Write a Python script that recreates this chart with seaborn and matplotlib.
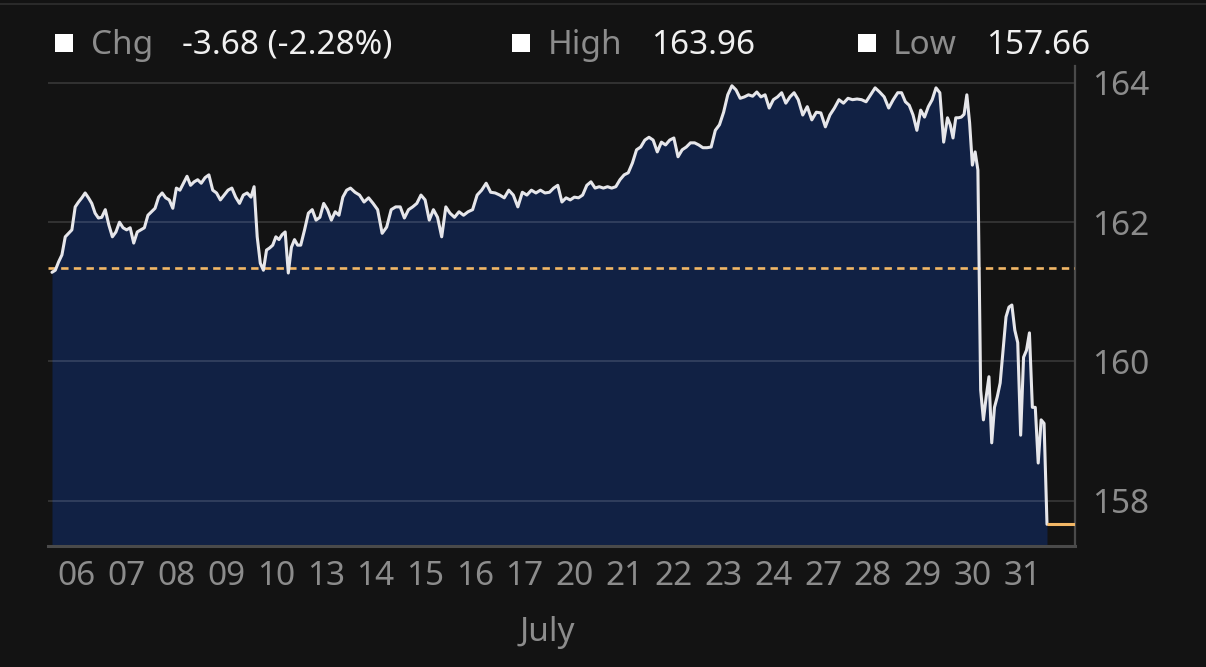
import numpy as np
import pandas as pd
import matplotlib
matplotlib.use("Agg")
import matplotlib.pyplot as plt
from matplotlib.patches import Rectangle
from matplotlib.lines import Line2D
import seaborn as sns

# ---------------- data ----------------
day_labels = ["06", "07", "08", "09", "10", "13", "14", "15", "16", "17",
              "20", "21", "22", "23", "24", "27", "28", "29", "30", "31"]
month_label = "July"
prev_close = 161.34
y_ticks = [158, 160, 162, 164]

jul06 = [161.28, 161.31, 161.43, 161.53, 161.79, 161.84, 161.89, 162.22, 162.29, 162.35, 162.42, 162.35, 162.27, 162.13, 162.06]
jul07 = [162.07, 162.18, 161.96, 161.79, 161.86, 162.00, 161.92, 161.89, 161.92, 161.70, 161.86, 161.89, 161.92, 162.10]
jul08 = [162.15, 162.20, 162.36, 162.42, 162.35, 162.32, 162.20, 162.49, 162.46, 162.56, 162.66, 162.53, 162.58, 162.61]
jul09 = [162.56, 162.64, 162.68, 162.46, 162.42, 162.32, 162.39, 162.46, 162.49, 162.36, 162.27, 162.39, 162.42]
jul10 = [162.36, 162.51, 161.79, 161.41, 161.31, 161.60, 161.63, 161.67, 161.79, 161.75, 161.82, 161.86, 161.27, 161.64, 161.75, 161.67]
jul13 = [161.67, 161.89, 162.13, 162.18, 162.03, 162.07, 162.27, 162.18, 162.03, 162.15, 162.10, 162.36, 162.46]
jul14 = [162.49, 162.43, 162.39, 162.29, 162.35, 162.27, 162.18, 161.84, 161.93, 162.18, 162.22]
jul15 = [162.22, 162.06, 162.18, 162.22, 162.27, 162.39, 162.32, 162.03, 162.18, 162.07, 161.79, 162.22]
jul16 = [162.13, 162.07, 162.15, 162.10, 162.15, 162.18, 162.39, 162.46, 162.56, 162.43, 162.42]
jul17 = [162.39, 162.35, 162.46, 162.39, 162.22, 162.43, 162.39, 162.46, 162.42, 162.46, 162.42]
jul20 = [162.43, 162.49, 162.53, 162.29, 162.35, 162.32, 162.36, 162.35, 162.39, 162.53, 162.58, 162.49]
jul21 = [162.51, 162.49, 162.51, 162.49, 162.51, 162.61, 162.68, 162.71, 162.85, 163.04, 163.08, 163.18]
jul22 = [163.22, 163.18, 163.01, 163.15, 163.11, 163.18, 163.21, 162.94, 163.04, 163.08, 163.14, 163.14]
jul23 = [163.11, 163.07, 163.07, 163.08, 163.32, 163.40, 163.58, 163.83, 163.96, 163.90, 163.78, 163.80]
jul24 = [163.83, 163.81, 163.87, 163.80, 163.83, 163.64, 163.76, 163.80, 163.86, 163.71, 163.80, 163.86]
jul27 = [163.76, 163.54, 163.66, 163.47, 163.58, 163.57, 163.37, 163.54, 163.64, 163.76, 163.71]
jul28 = [163.78, 163.76, 163.77, 163.76, 163.73, 163.83, 163.93, 163.87, 163.80, 163.64, 163.76]
jul29 = [163.86, 163.86, 163.73, 163.68, 163.54, 163.32, 163.61, 163.51, 163.66, 163.76, 163.93, 163.86, 163.15]
jul30 = [163.50, 163.40, 163.21, 163.50, 163.50, 163.51, 163.55, 163.83, 163.43, 162.82, 163.01, 162.75, 159.59, 159.16, 159.49, 159.78, 158.83, 159.34]
jul31 = [159.49, 159.69, 160.16, 160.64, 160.78, 160.81, 160.45, 160.27, 158.94, 160.06, 160.16, 160.41, 159.34, 159.34, 158.54, 159.16, 159.11, 157.66]

sessions = [jul06, jul07, jul08, jul09, jul10, jul13, jul14, jul15, jul16, jul17,
            jul20, jul21, jul22, jul23, jul24, jul27, jul28, jul29, jul30, jul31]

# build time index: each session occupies one unit on the x axis
xs, ys = [], []
for i, vals in enumerate(sessions):
    n = len(vals)
    if i == len(sessions) - 1:
        pos = np.linspace(i, i + 1, n)
    else:
        pos = i + np.arange(n) / n
    xs.extend(pos)
    ys.extend(vals)
df = pd.DataFrame({"t": xs, "price": ys})

last = df["price"].iloc[-1]
chg = last - prev_close
pct = chg / prev_close * 100
hi = df["price"].max()
lo = df["price"].min()

# ---------------- style ----------------
BG = "#131313"
NAVY = "#112144"
LINE = "#e6e6ea"
SPINE = "#4a4a4a"
TXT_GRAY = "#8c8c8c"
TXT_WHITE = "#f0f0f0"
ORANGE = "#f2b766"

sns.set_theme(style="dark", rc={"axes.facecolor": BG, "figure.facecolor": BG})
plt.rcParams["font.family"] = ["Noto Sans", "DejaVu Sans"]

W, H = 1206, 667
fig = plt.figure(figsize=(W / 100, H / 100), dpi=100)
fig.patch.set_facecolor(BG)

ax = fig.add_axes([48 / W, 1 - 546 / H, (1075 - 48) / W, (546 - 66) / H])
ax.set_facecolor(BG)

ymin, ymax = 157.348, 164.244
xmin, xmax = -0.080, 20.563

ax.fill_between(df["t"], df["price"], ymin, color=NAVY, linewidth=0, zorder=1)
for yt in y_ticks:
    ax.axhline(yt, color="white", alpha=0.13, linewidth=1.5, zorder=2)
ax.axhline(prev_close, color=ORANGE, linewidth=1.9, dashes=(2.8, 2.0), zorder=3)
sns.lineplot(data=df, x="t", y="price", ax=ax, color=LINE, linewidth=2.2,
             estimator=None, sort=False, zorder=4)
ax.plot([df["t"].iloc[-1], xmax], [last, last], color=ORANGE, linewidth=2.2,
        solid_capstyle="butt", zorder=4)

ax.set_xlim(xmin, xmax)
ax.set_ylim(ymin, ymax)
ax.set_xlabel("")
ax.set_ylabel("")
ax.grid(False)

ax.set_xticks(np.arange(len(day_labels)) + 0.5)
ax.set_xticklabels(day_labels)
ax.yaxis.tick_right()
ax.set_yticks(y_ticks)
ax.set_yticklabels([str(v) for v in y_ticks])
ax.tick_params(axis="x", length=0, pad=10, labelsize=24, labelcolor=TXT_GRAY)
ax.tick_params(axis="y", length=0, pad=12, labelsize=24, labelcolor=TXT_GRAY)

for s in ["top", "left"]:
    ax.spines[s].set_visible(False)
ax.spines["bottom"].set_color(SPINE)
ax.spines["bottom"].set_linewidth(2.2)
ax.spines["right"].set_color(SPINE)
ax.spines["right"].set_linewidth(1.6)

# month label
fig.text(547 / W, 1 - 641 / H, month_label, ha="center", va="baseline",
         fontsize=24, color=TXT_GRAY)

# top separator line
fig.add_artist(Line2D([0, 1], [1 - 4 / H, 1 - 4 / H], transform=fig.transFigure,
                      color="#2a2a2a", linewidth=1.5))

# header legend
base = 1 - 54 / H
items = [
    (55, 91, "Chg", 182, f"{chg:.2f} ({pct:.2f}%)"),
    (512, 548, "High", 651, f"{hi:.2f}"),
    (858, 893, "Low", 986, f"{lo:.2f}"),
]
for sq_x, lab_x, lab, val_x, val in items:
    fig.add_artist(Rectangle((sq_x / W, 1 - 52 / H), 18 / W, 18 / H,
                             transform=fig.transFigure, facecolor="white",
                             edgecolor="none"))
    fig.text(lab_x / W, base, lab, ha="left", va="baseline", fontsize=24,
             color=TXT_GRAY)
    fig.text(val_x / W, base, val, ha="left", va="baseline", fontsize=24,
             color=TXT_WHITE)

fig.savefig("out.png", dpi=100, facecolor=BG)
